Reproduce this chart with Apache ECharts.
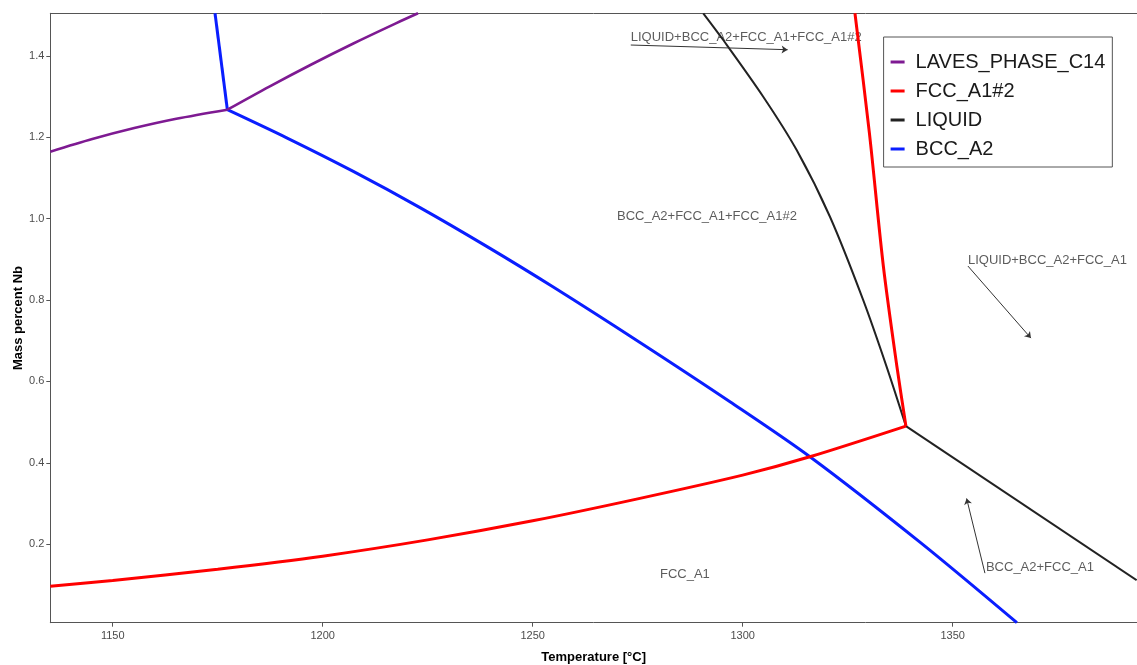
<!DOCTYPE html>
<html>
<head>
<meta charset="utf-8">
<script src="https://cdn.jsdelivr.net/npm/echarts@6/dist/echarts.min.js"></script>
<style>
  html, body { margin: 0; padding: 0; background: #fff; }
  #chart { width: 1137px; height: 665px; }
</style>
</head>
<body>
<div id="chart"></div>
<script>
// phase boundaries, temperature (°C) vs mass percent Nb
// each boundary is split at its triple point so the curve pieces can be smoothed
const lavesLowT  = [1135.14, 1145.14, 1155.14, 1165.14, 1177.3]
const lavesLowNb = [1.1647, 1.1958, 1.2228, 1.2457, 1.268]
const lavesUpT   = [1177.3, 1187.3, 1197.3, 1207.3, 1217.3, 1222.7]
const lavesUpNb  = [1.268, 1.3249, 1.3792, 1.4308, 1.4797, 1.505]

const fccLowT  = [1135.14, 1150, 1175, 1200, 1225, 1250, 1275, 1300, 1316, 1338.88]
const fccLowNb = [0.0968, 0.1108, 0.1386, 0.1706, 0.2106, 0.2574, 0.3114, 0.3697, 0.4148, 0.4902]
const fccUpT   = [1338.88, 1336.74, 1333.52, 1330.19, 1326.74]
const fccUpNb  = [0.4902, 0.636, 0.8819, 1.2099, 1.505]

const liquidUpT   = [1290.62, 1295.38, 1304.9, 1312.86, 1320.79, 1328.71, 1334.29, 1338.88]
const liquidUpNb  = [1.505, 1.4393, 1.30, 1.1689, 1.0049, 0.80, 0.636, 0.4902]
const liquidLowT  = [1338.88, 1393.81]
const liquidLowNb = [0.4902, 0.1116]

const bccUpT   = [1174.36, 1177.3]
const bccUpNb  = [1.505, 1.268]
const bccLowT  = [1177.3, 1191.43, 1207.29, 1223.17, 1239.05, 1254.9, 1275.55, 1296.98, 1316.02, 1342.21, 1365.3]
const bccLowNb = [1.268, 1.1988, 1.1163, 1.0274, 0.9321, 0.8322, 0.6959, 0.5502, 0.415, 0.205, 0.007]

// region labels (left edge of text) and their arrows
const annoText = ['LIQUID+BCC_A2+FCC_A1+FCC_A1#2', 'BCC_A2+FCC_A1+FCC_A1#2', 'LIQUID+BCC_A2+FCC_A1', 'BCC_A2+FCC_A1', 'FCC_A1']
const annoT  = [1273.36, 1270.07, 1353.64, 1357.93, 1280.31]
const annoNb = [1.445, 1.0066, 0.8984, 0.1418, 0.1256]

const arrowFromT  = [1273.36, 1353.64, 1357.69]
const arrowFromNb = [1.427, 0.8837, 0.1288]
const arrowToT    = [1310.71, 1368.64, 1353.33]
const arrowToNb   = [1.4155, 0.7066, 0.3124]

const xTicks = [1150, 1200, 1250, 1300, 1350]
const yTicks = [0.2, 0.4, 0.6, 0.8, 1.0, 1.2, 1.4]

const pairs = (xs, ys) => xs.map((x, i) => [x, ys[i]])
const font = 'Liberation Sans, Arial, sans-serif'
const axisColor = '#555'

const colors = { LAVES_PHASE_C14: '#7e1a92', 'FCC_A1#2': '#ff0000', LIQUID: '#222222', BCC_A2: '#0a1eff' }
const widths = { LAVES_PHASE_C14: 2.6, 'FCC_A1#2': 3, LIQUID: 2, BCC_A2: 3 }

function piece(name, xs, ys) {
    return {
        name: name,
        type: 'line',
        data: pairs(xs, ys),
        symbol: 'none',
        showSymbol: false,
        smooth: 0.3,
        clip: true,
        lineStyle: { color: colors[name], width: widths[name] },
        itemStyle: { color: colors[name] },
        emphasis: { disabled: true }
    }
}

const chart = echarts.init(document.getElementById('chart'), null, { renderer: 'canvas' })
chart.setOption({
    animation: false,
    backgroundColor: '#fff',
    grid: { left: 50.3, top: 13.3, right: 0, bottom: 42.3, containLabel: false, outerBoundsMode: 'none' },
    legend: {
        data: ['LAVES_PHASE_C14', 'FCC_A1#2', 'LIQUID', 'BCC_A2'],
        orient: 'vertical',
        left: 883.6,
        top: 37,
        padding: [14, 7, 7, 7],
        borderColor: '#555',
        borderWidth: 1,
        icon: 'rect',
        itemWidth: 14,
        itemHeight: 3,
        itemGap: 7,
        selectedMode: false,
        textStyle: { fontFamily: font, fontSize: 20, lineHeight: 22, color: '#1a1a1a', padding: [0, 0, 0, 6] }
    },
    xAxis: [
        {
            type: 'value',
            min: 1135.14,
            max: 1393.9,
            name: 'Temperature [°C]',
            nameLocation: 'middle',
            nameGap: 28,
            nameMoveOverlap: false,
            nameTextStyle: { fontFamily: font, fontSize: 13, fontWeight: 'bold', color: '#000' },
            axisLine: { show: true, lineStyle: { color: axisColor, width: 1 } },
            axisTick: { show: true, length: 4, customValues: xTicks, lineStyle: { color: axisColor } },
            axisLabel: { customValues: xTicks, margin: 8, fontFamily: font, fontSize: 11, color: '#4d4d4d', formatter: v => String(v) },
            splitLine: { show: false }
        },
        {
            type: 'value',
            position: 'top',
            min: 1135.14,
            max: 1393.9,
            axisLine: { show: true, lineStyle: { color: axisColor, width: 1 } },
            axisTick: { show: false },
            axisLabel: { show: false },
            splitLine: { show: false }
        }
    ],
    yAxis: {
        type: 'value',
        min: 0.007,
        max: 1.505,
        name: 'Mass percent Nb',
        nameLocation: 'middle',
        nameGap: 25,
        nameMoveOverlap: false,
        nameTextStyle: { fontFamily: font, fontSize: 13, fontWeight: 'bold', color: '#000' },
        axisLine: { show: true, lineStyle: { color: axisColor, width: 1 } },
        axisTick: { show: true, length: 4, customValues: yTicks, lineStyle: { color: axisColor } },
        axisLabel: {
            customValues: yTicks,
            margin: 6,
            fontFamily: font,
            fontSize: 11,
            color: '#4d4d4d',
            formatter: v => v.toFixed(1)
        },
        splitLine: { show: false }
    },
    series: [
        piece('BCC_A2', bccUpT, bccUpNb),
        piece('BCC_A2', bccLowT, bccLowNb),
        piece('LIQUID', liquidUpT, liquidUpNb),
        piece('LIQUID', liquidLowT, liquidLowNb),
        piece('LAVES_PHASE_C14', lavesLowT, lavesLowNb),
        piece('LAVES_PHASE_C14', lavesUpT, lavesUpNb),
        piece('FCC_A1#2', fccLowT, fccLowNb),
        piece('FCC_A1#2', fccUpT, fccUpNb),
        {
            name: 'regions',
            type: 'scatter',
            symbolSize: 0,
            silent: true,
            data: annoText.map((t, i) => ({ name: t, value: [annoT[i], annoNb[i]] })),
            label: {
                show: true,
                position: 'right',
                distance: 0,
                formatter: p => p.name,
                fontFamily: font,
                fontSize: 13,
                color: '#333'
            },
            markLine: {
                silent: true,
                symbol: ['none', 'arrow'],
                symbolSize: 6,
                label: { show: false },
                lineStyle: { color: '#333', width: 1, type: 'solid' },
                data: arrowFromT.map((x, i) => [
                    { coord: [x, arrowFromNb[i]] },
                    { coord: [arrowToT[i], arrowToNb[i]] }
                ])
            }
        }
    ]
})
</script>
</body>
</html>
